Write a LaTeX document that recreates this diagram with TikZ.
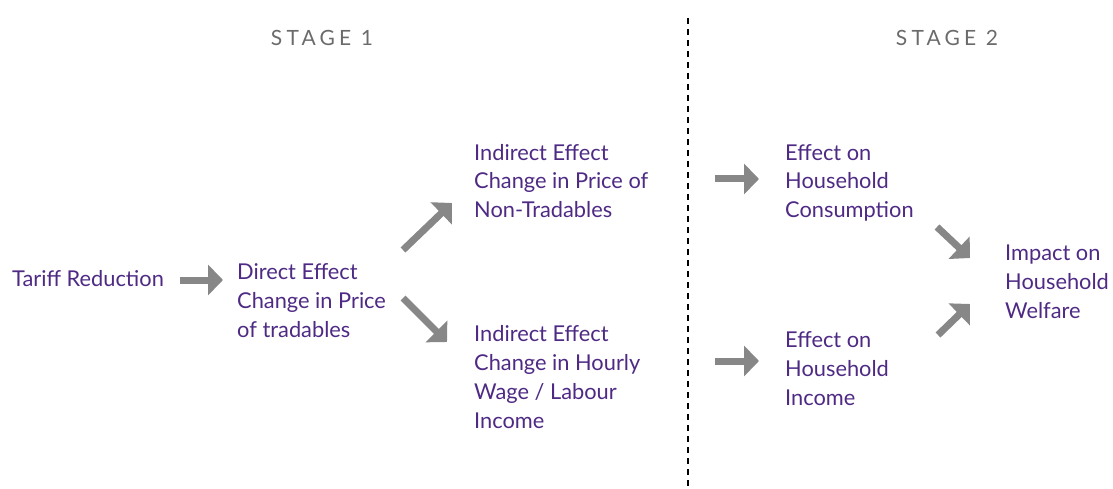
\documentclass[tikz,border=0pt]{standalone}
\usepackage{fontspec}
\setmainfont{Lato}
\usetikzlibrary{arrows.meta}
\definecolor{txt}{HTML}{4E2A84}
\definecolor{arr}{HTML}{878787}
\definecolor{stg}{HTML}{6B6B6B}
\begin{document}
\begin{tikzpicture}[x=1pt,y=-1pt,
  lbl/.style={anchor=base west, inner sep=0pt, align=left, text=txt,
    font=\fontsize{21.8}{29}\selectfont},
  bigarrow/.style={draw=arr, line width=7pt, line cap=butt,
    -{Triangle[length=15pt,width=30pt]}},
  stagelbl/.style={anchor=base, inner sep=0pt, text=stg,
    font=\fontsize{21}{24}\selectfont\addfontfeature{LetterSpace=20}},
  divider/.style={draw=black, line width=2pt, dash pattern=on 6pt off 5pt}]
\useasboundingbox (0,0) rectangle (1113,489);

% stage headings
\node[stagelbl] (s1) at (322,46) {STAGE 1};
\node[stagelbl] (s2) at (947,46) {STAGE 2};

% divider
\coordinate (dtop) at (688,18);
\coordinate (dbot) at (688,489);
\draw[divider] (dtop) -- (dbot);

% nodes (anchored at the baseline of their last line)
\node[lbl] (t) at (12,286) {Tariff Reduction};
\node[lbl] (d) at (237,337) {Direct Effect\\Change in Price\\of tradables};
\node[lbl] (i1) at (474,218) {Indirect Effect\\Change in Price of\\Non-Tradables};
\node[lbl] (i2) at (474,428) {Indirect Effect\\Change in Hourly\\Wage / Labour\\Income};
\node[lbl] (c) at (785,218) {Effect on\\Household\\Consumption};
\node[lbl] (h) at (785,405) {Effect on\\Household\\Income};
\node[lbl] (w) at (1005,318) {Impact on\\Household\\Welfare};

% arrow end points
\coordinate (a1s) at (180,280);  \coordinate (a1e) at (223,280);
\coordinate (a2s) at (403,250);  \coordinate (a2e) at (452,203);
\coordinate (a3s) at (403,298);  \coordinate (a3e) at (447,342);
\coordinate (a4s) at (715,179);  \coordinate (a4e) at (759,179);
\coordinate (a5s) at (715,361);  \coordinate (a5e) at (759,361);
\coordinate (a6s) at (937,227);  \coordinate (a6e) at (970,258);
\coordinate (a7s) at (938,335);  \coordinate (a7e) at (970,304);

\draw[bigarrow] (a1s) -- (a1e);
\draw[bigarrow] (a2s) -- (a2e);
\draw[bigarrow] (a3s) -- (a3e);
\draw[bigarrow] (a4s) -- (a4e);
\draw[bigarrow] (a5s) -- (a5e);
\draw[bigarrow] (a6s) -- (a6e);
\draw[bigarrow] (a7s) -- (a7e);
\end{tikzpicture}
\end{document}
